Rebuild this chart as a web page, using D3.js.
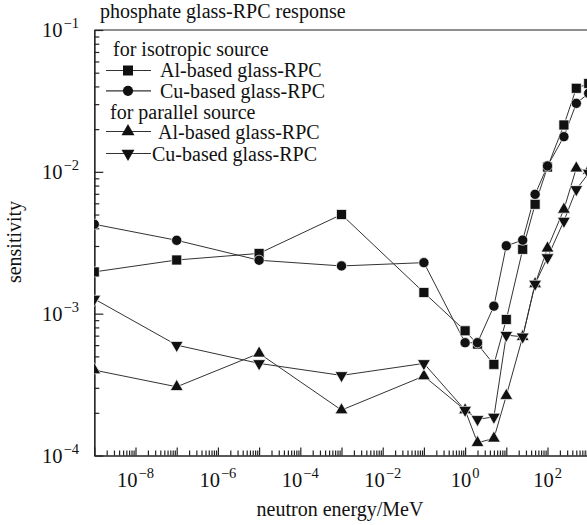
<!DOCTYPE html>
<html>
<head>
<meta charset="utf-8">
<script src="https://cdn.jsdelivr.net/npm/d3@7"></script>
<style>
    body { margin: 0; background: #fff; }
    svg { display: block; font-family: "Liberation Serif", "Times New Roman", serif; }
</style>
</head>
<body>
<svg id="chart" width="587" height="525"></svg>
<script>
// neutron energy in MeV
const energy = [1e-9, 1e-7, 1e-5, 1e-3, 1e-1, 1, 2, 5, 10, 25, 50, 100, 250, 500, 1000];

// sensitivity per series
const isoAl = [1.97e-3, 2.39e-3, 2.66e-3, 5.0e-3, 1.41e-3, 7.57e-4, 6.1e-4, 4.39e-4, 9.1e-4, 2.84e-3, 5.9e-3, 1.08e-2, 2.14e-2, 3.88e-2, 4.2e-2];
const isoCu = [4.27e-3, 3.29e-3, 2.38e-3, 2.17e-3, 2.29e-3, 6.24e-4, 6.24e-4, 1.13e-3, 3.01e-3, 3.3e-3, 6.94e-3, 1.1e-2, 1.77e-2, 3.04e-2, 3.58e-2];
const parAl = [4.0e-4, 3.05e-4, 5.25e-4, 2.09e-4, 3.63e-4, 2.09e-4, 1.23e-4, 1.32e-4, 2.64e-4, 6.87e-4, 1.62e-3, 2.89e-3, 5.43e-3, 1.06e-2, 1.02e-2];
const parCu = [1.27e-3, 6.0e-4, 4.46e-4, 3.67e-4, 4.46e-4, 2.09e-4, 1.8e-4, 1.87e-4, 7.06e-4, 6.87e-4, 1.62e-3, 2.49e-3, 4.5e-3, 7.52e-3, 9.8e-3];

const xLabelExps = [-8, -6, -4, -2, 0, 2];
const yLabelExps = [-1, -2, -3, -4];
const seriesLabels = ['Al-based glass-RPC', 'Cu-based glass-RPC', 'Al-based glass-RPC', 'Cu-based glass-RPC'];
const groupLabels = ['for isotropic source', 'for parallel source'];

const svg = d3.select('#chart');
const plotLeft = 94.3, plotRight = 588.7, plotTop = 30, plotBottom = 455.5;

const x = d3.scaleLog().domain([1e-9, 1e3]).range([plotLeft, plotRight]);
const y = d3.scaleLog().domain([1e-4, 1e-1]).range([plotBottom, plotTop]);

// tick values, majors every decade and minors 2..9
const decadesX = d3.range(-9, 4).map(e => Math.pow(10, e));
const minorsX = [];
decadesX.slice(0, -1).forEach(d => { for (let k = 2; k < 10; k++) minorsX.push(d * k); });
const decadesY = d3.range(-4, 0).map(e => Math.pow(10, e));
const minorsY = [];
decadesY.slice(0, -1).forEach(d => { for (let k = 2; k < 10; k++) minorsY.push(d * k); });

const axisColor = '#222';
const fontSize = 20;

function styleAxis(g) {
    g.selectAll('path, line').attr('stroke', axisColor).attr('stroke-width', 1.2);
    g.selectAll('text').remove();
}

svg.append('g')
    .attr('transform', `translate(0,${plotBottom})`)
    .call(d3.axisBottom(x).tickValues(minorsX).tickSize(-5).tickSizeOuter(0).tickFormat(''))
    .call(styleAxis);
svg.append('g')
    .attr('transform', `translate(0,${plotBottom})`)
    .call(d3.axisBottom(x).tickValues(decadesX).tickSize(-8).tickSizeOuter(0).tickFormat(''))
    .call(styleAxis);

svg.append('g')
    .attr('transform', `translate(${plotLeft},0)`)
    .call(d3.axisLeft(y).tickValues(minorsY).tickSize(-5).tickSizeOuter(0).tickFormat(''))
    .call(styleAxis);
svg.append('g')
    .attr('transform', `translate(${plotLeft},0)`)
    .call(d3.axisLeft(y).tickValues(decadesY).tickSize(-9).tickSizeOuter(0).tickFormat(''))
    .call(styleAxis);

// top frame
svg.append('line')
    .attr('x1', plotLeft).attr('x2', plotRight).attr('y1', plotTop).attr('y2', plotTop)
    .attr('stroke', axisColor).attr('stroke-width', 1.2);

// power-of-ten labels
function powLabel(sel, exp) {
    sel.append('tspan').text('10');
    sel.append('tspan').attr('dy', -9).attr('dx', 1).attr('font-size', 14.5).text(exp < 0 ? '\u2212' + (-exp) : exp);
}

xLabelExps.forEach(e => {
    svg.append('text')
        .attr('x', x(Math.pow(10, e)))
        .attr('y', 487)
        .attr('text-anchor', 'middle')
        .attr('font-size', 20.5)
        .attr('fill', '#111')
        .call(powLabel, e);
});

yLabelExps.forEach(e => {
    svg.append('text')
        .attr('x', 79)
        .attr('y', y(Math.pow(10, e)) + 7)
        .attr('text-anchor', 'end')
        .attr('font-size', 20.5)
        .attr('fill', '#111')
        .call(powLabel, e);
});

svg.append('text')
    .attr('x', 340).attr('y', 516)
    .attr('text-anchor', 'middle')
    .attr('font-size', fontSize).attr('fill', '#111')
    .text('neutron energy/MeV');

svg.append('text')
    .attr('transform', 'translate(21,242) rotate(-90)')
    .attr('text-anchor', 'middle')
    .attr('font-size', fontSize).attr('fill', '#111')
    .text('sensitivity');

svg.append('text')
    .attr('x', 100).attr('y', 17.5)
    .attr('font-size', fontSize).attr('fill', '#111')
    .text('phosphate glass-RPC response');

// series
const symbols = [
    { type: d3.symbolSquare, size: 100, rot: 0 },
    { type: d3.symbolCircle, size: 82, rot: 0 },
    { type: d3.symbolTriangle, size: 72, rot: 0 },
    { type: d3.symbolTriangle, size: 72, rot: 180 }
];
const series = [isoAl, isoCu, parAl, parCu];

svg.append('clipPath').attr('id', 'plot-clip')
    .append('rect')
    .attr('x', plotLeft).attr('y', plotTop)
    .attr('width', plotRight - plotLeft).attr('height', plotBottom - plotTop);

const plot = svg.append('g').attr('clip-path', 'url(#plot-clip)');

const line = d3.line()
    .x(d => x(d[0]))
    .y(d => y(d[1]));

series.forEach(vals => {
    plot.append('path')
        .datum(energy.map((e, i) => [e, vals[i]]))
        .attr('fill', 'none')
        .attr('stroke', '#333')
        .attr('stroke-width', 1)
        .attr('d', line);
});

series.forEach((vals, si) => {
    const s = symbols[si];
    plot.append('g')
        .selectAll('path')
        .data(energy.map((e, i) => [e, vals[i]]))
        .join('path')
        .attr('d', d3.symbol(s.type, s.size))
        .attr('transform', d => `translate(${x(d[0])},${y(d[1])}) rotate(${s.rot})`)
        .attr('fill', '#111')
        .attr('stroke', '#fff')
        .attr('stroke-width', 0.7);
});

// legend
const legendRows = [
    { kind: 'group', text: groupLabels[0], tx: 113, ty: 56 },
    { kind: 'item', si: 0, my: 70.5, tx: 160, ty: 77 },
    { kind: 'item', si: 1, my: 90.8, tx: 160, ty: 97.5 },
    { kind: 'group', text: groupLabels[1], tx: 110, ty: 118.5 },
    { kind: 'item', si: 2, my: 131.5, tx: 158, ty: 138.5 },
    { kind: 'item', si: 3, my: 153.5, tx: 152, ty: 160.5 }
];

const legend = svg.append('g');
legendRows.forEach(r => {
    if (r.kind === 'item') {
        const s = symbols[r.si];
        legend.append('line')
            .attr('x1', 106).attr('x2', 151)
            .attr('y1', r.my).attr('y2', r.my)
            .attr('stroke', '#333').attr('stroke-width', 1.2);
        legend.append('path')
            .attr('d', d3.symbol(s.type, s.size))
            .attr('transform', `translate(128,${r.my}) rotate(${s.rot})`)
            .attr('fill', '#111');
    }
    legend.append('text')
        .attr('x', r.tx).attr('y', r.ty)
        .attr('font-size', fontSize).attr('fill', '#111')
        .text(r.kind === 'item' ? seriesLabels[r.si] : r.text);
});
</script>
</body>
</html>
